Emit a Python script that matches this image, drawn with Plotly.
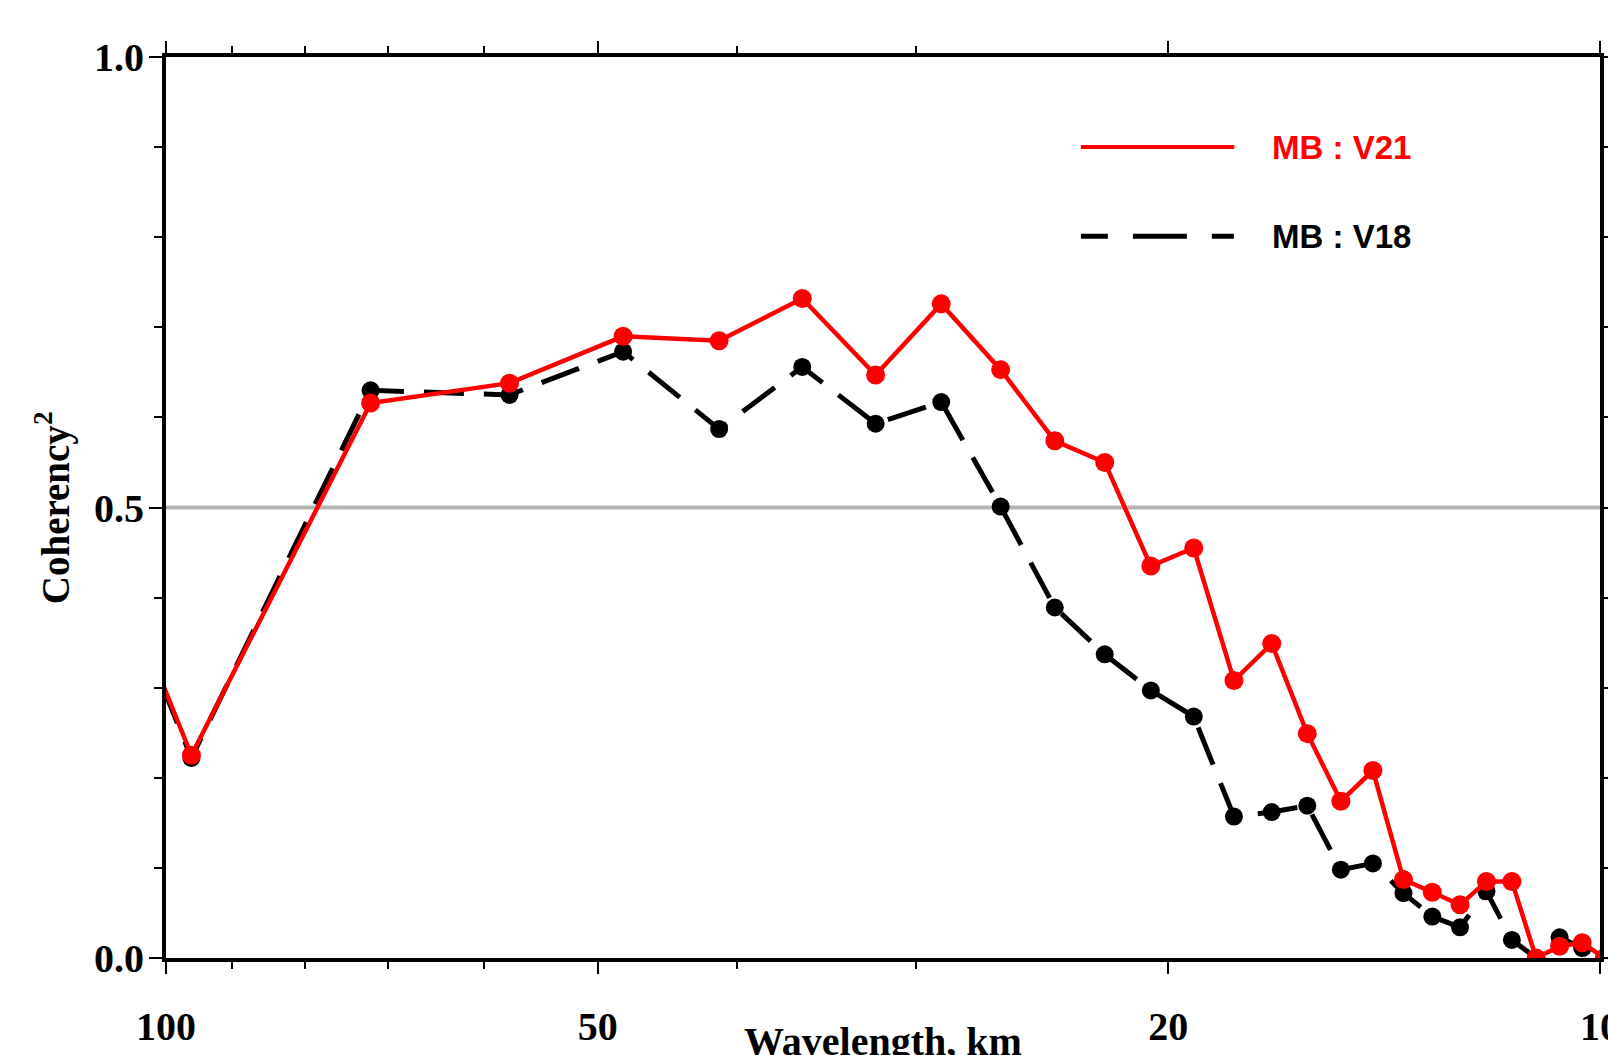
import plotly.graph_objects as go

# Wavelength (km) of each spectral estimate and the squared coherency of both models
wavelength_km = [144.0, 96.0, 72.0, 57.6, 48.0, 41.14, 36.0, 32.0, 28.8, 26.18,
                 24.0, 22.15, 20.57, 19.2, 18.0, 16.94, 16.0, 15.16, 14.4, 13.71,
                 13.09, 12.52, 12.0, 11.52, 11.08, 10.67, 10.29, 9.93]
coh_v21 = [0.92, 0.225, 0.616, 0.638, 0.690, 0.685, 0.732, 0.647, 0.726, 0.653,
           0.574, 0.550, 0.435, 0.455, 0.308, 0.349, 0.249, 0.174, 0.208, 0.087,
           0.073, 0.059, 0.085, 0.085, 0.0, 0.013, 0.017, 0.0]
coh_v18 = [0.92, 0.222, 0.630, 0.625, 0.673, 0.587, 0.656, 0.593, 0.617, 0.501,
           0.389, 0.337, 0.297, 0.268, 0.157, 0.162, 0.169, 0.098, 0.105, 0.072,
           0.046, 0.034, 0.074, 0.020, 0.0, 0.023, 0.011, 0.0]

x_tick_vals = [100, 50, 20, 10]
x_tick_text = ["100", "50", "20", "10"]
x_minor_vals = [90, 80, 70, 60, 40, 30]
y_tick_vals = [0.0, 0.5, 1.0]
y_tick_text = ["0.0", "0.5", "1.0"]
y_minor_vals = [0.1, 0.2, 0.3, 0.4, 0.6, 0.7, 0.8, 0.9]

label_v21 = "MB : V21"
label_v18 = "MB : V18"
threshold = 0.5

RED = "#ff0000"
SERIF = "Liberation Serif"
SANS = "Liberation Sans"

fig = go.Figure()

# V18 first so the red V21 curve sits on top
fig.add_trace(go.Scatter(
    x=wavelength_km, y=coh_v18, mode="lines+markers", name=label_v18,
    line=dict(color="black", width=5, dash="40px,20px"),
    marker=dict(color="black", size=18),
    cliponaxis=True,
))
fig.add_trace(go.Scatter(
    x=wavelength_km, y=coh_v21, mode="lines+markers", name=label_v21,
    line=dict(color=RED, width=4.5),
    marker=dict(color=RED, size=19),
    cliponaxis=True,
))

tick_font = dict(family=SERIF, size=40, color="black", weight="bold")

fig.update_layout(
    template="none",
    width=1608, height=1055,
    margin=dict(l=166, r=8, t=57, b=97),
    plot_bgcolor="white", paper_bgcolor="white",
    showlegend=False,
    xaxis=dict(
        type="log", range=[2, 1],
        tickmode="array", tickvals=x_tick_vals, ticktext=x_tick_text,
        ticks="outside", ticklen=12, tickwidth=2, tickcolor="black",
        minor=dict(tickmode="array", tickvals=x_minor_vals, ticks="outside",
                   ticklen=7, tickwidth=2, tickcolor="black", showgrid=False),
        showline=True, linewidth=4, linecolor="black", mirror="ticks",
        showgrid=False, zeroline=False, automargin=False,
        tickfont=tick_font, ticklabelstandoff=18, ticklabeloverflow="allow",
    ),
    yaxis=dict(
        range=[0, 1],
        tickmode="array", tickvals=y_tick_vals, ticktext=y_tick_text,
        ticks="outside", ticklen=13, tickwidth=2, tickcolor="black",
        minor=dict(tickmode="array", tickvals=y_minor_vals, ticks="outside",
                   ticklen=8, tickwidth=2, tickcolor="black", showgrid=False),
        showline=True, linewidth=4, linecolor="black", mirror="ticks",
        showgrid=False, zeroline=False, automargin=False,
        tickfont=tick_font, ticklabelstandoff=-3, ticklabeloverflow="allow",
    ),
)

# 0.5 reference level
fig.add_shape(type="line", xref="paper", yref="y", x0=0, x1=1,
              y0=threshold, y1=threshold, layer="below",
              line=dict(color="#b4b4b4", width=4))

# Legend drawn as long line samples with coloured labels
fig.add_shape(type="line", xref="paper", yref="paper", x0=0.638, x1=0.745,
              y0=0.900, y1=0.900, line=dict(color=RED, width=4))
fig.add_shape(type="line", xref="paper", yref="paper", x0=0.638, x1=0.745,
              y0=0.801, y1=0.801,
              line=dict(color="black", width=5, dash="27px,25px,54px,25px,22px"))
legend_font = dict(family=SANS, size=33, weight="bold")
fig.add_annotation(x=0.7700, y=0.900, xref="paper", yref="paper", text=label_v21,
                   showarrow=False, xanchor="left", yanchor="middle",
                   font=dict(legend_font, color=RED))
fig.add_annotation(x=0.7700, y=0.801, xref="paper", yref="paper", text=label_v18,
                   showarrow=False, xanchor="left", yanchor="middle",
                   font=dict(legend_font, color="black"))

# Axis titles
fig.add_annotation(x=0.5, y=-0.0932, xref="paper", yref="paper",
                   text="Wavelength, km", showarrow=False,
                   xanchor="center", yanchor="middle",
                   font=dict(family=SERIF, size=40, color="black", weight="bold"))
fig.add_annotation(x=-0.079, y=0.5, xref="paper", yref="paper",
                   text="Coherency<sup>2</sup>", showarrow=False, textangle=-90,
                   xanchor="center", yanchor="middle",
                   font=dict(family=SERIF, size=39, color="black", weight="bold"))

fig.write_html("out.html")
